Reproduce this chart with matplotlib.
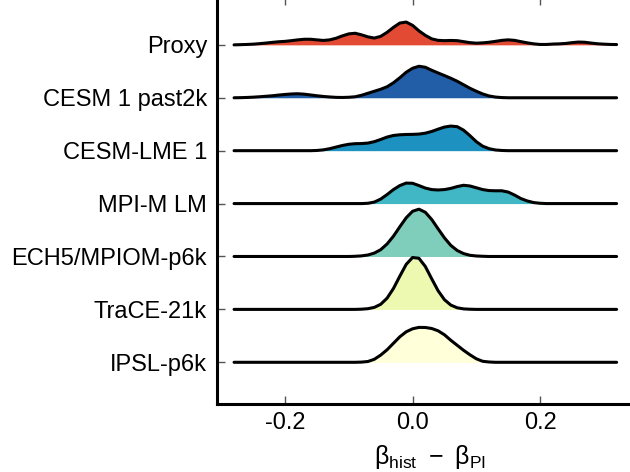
import numpy as np
import matplotlib
matplotlib.use("Agg")
import matplotlib.pyplot as plt

plt.rcParams["font.family"] = ["Liberation Sans", "DejaVu Sans"]
plt.rcParams["axes.unicode_minus"] = False
plt.rcParams["mathtext.fontset"] = "custom"
plt.rcParams["mathtext.rm"] = "Liberation Sans"

models = ["Proxy", "CESM 1 past2k", "CESM-LME 1", "MPI-M LM",
          "ECH5/MPIOM-p6k", "TraCE-21k", "IPSL-p6k"]
colors = ["#e34a33", "#225ea8", "#1d91c0", "#41b6c4",
          "#7fcdbb", "#edf8b1", "#ffffd9"]

# beta_hist - beta_PI grid, -0.28 .. 0.32
beta_diff = np.linspace(-0.28, 0.32, 61)

proxy = [0, 0.2, 0.4, 0.7, 1.2, 1.8, 2.5, 3.1, 3.5, 4.2,
         5.0, 5.6, 5.6, 5.0, 4.4, 5.0, 6.6, 9.0, 11.0, 11.6,
         10.0, 8.0, 6.8, 8.5, 12.5, 17.5, 21.8, 22.8, 19.5, 14.0,
         9.5, 6.0, 4.5, 4.2, 4.4, 4.2, 3.2, 2.2, 1.7, 2.0,
         2.6, 3.5, 4.5, 5.0, 4.5, 3.2, 2.0, 1.0, 0.4, 0.4,
         0.8, 1.0, 1.4, 2.2, 2.8, 2.6, 1.8, 1.1, 0.7, 0.4,
         0.3]
cesm1_past2k = ([0, 0.1, 0.3, 0.6, 1.0, 1.5, 2.0, 2.7, 3.3, 3.8,
                 4.0, 3.6, 2.8, 2.0, 1.3, 0.8, 0.4, 0.3, 0.5, 1.0,
                 2.5, 4.5, 6.5, 8.5, 11.0, 15.0, 20.0, 25.5, 29.5, 31.5,
                 30.5, 27.5, 24.8, 22.2, 19.5, 16.5, 13.0, 9.5, 6.5, 3.8,
                 1.8, 0.7, 0.2] + [0] * 18)
cesm_lme = ([0] * 10 +
            [0, 0, 0, 0.2, 0.8, 2.0, 3.6, 5.2, 6.4, 7.0,
             7.1, 7.6, 9.0, 11.2, 13.6, 15.2, 15.9, 16.2, 16.3, 16.6,
             17.5, 19.2, 21.5, 23.6, 24.6, 24.0, 20.5, 15.0, 9.0, 4.5,
             2.0, 0.7, 0.2] + [0] * 18)
mpi_lm = ([0] * 20 +
          [0, 0.3, 1.5, 4.5, 9.0, 14.0, 18.0, 20.5, 20.3, 18.0,
           15.5, 14.0, 13.6, 14.0, 15.2, 17.0, 18.3, 17.6, 15.8, 14.0,
           13.0, 12.8, 12.8, 11.5, 8.5, 5.0, 2.6, 1.0, 0.3] + [0] * 12)
ech5 = ([0] * 19 + [0.2,
        0.6, 1.5, 3.4, 6.8, 12.5, 20.3, 29.7, 38.7, 45.2, 47.3,
        44.2, 37.0, 27.7, 18.6, 11.1, 6.0, 2.9, 1.2, 0.5, 0.2] + [0] * 21)
trace21k = ([0] * 20 +
            [0.2, 0.7, 2.0, 5.1, 11.2, 20.9, 33.2, 45.0, 51.9, 51.1,
             42.9, 30.6, 18.7, 9.7, 4.3, 1.6, 0.5, 0.15] + [0] * 23)
ipsl = ([0] * 20 +
        [0.2, 0.8, 3.0, 7.2, 12.5, 19.0, 25.5, 30.5, 33.5, 34.9,
         34.8, 33.8, 31.5, 27.5, 22.0, 17.0, 12.0, 7.5, 3.5, 1.0,
         0.3] + [0] * 20)

densities = [proxy, cesm1_past2k, cesm_lme, mpi_lm, ech5, trace21k, ipsl]
scale = 1 / 52.9

fig = plt.figure(figsize=(6.3, 4.72), dpi=100)
ax = fig.add_axes([0.3452, 0.1441, 0.674, 0.8623])

n = len(models)
for i in range(n):
    base = n - 1 - i
    y = base + np.array(densities[i]) * scale
    ax.fill_between(beta_diff, base, y, color=colors[i], lw=0, zorder=2 * i + 1)
    ax.plot(beta_diff, y, color="black", lw=2.2, zorder=2 * i + 2,
            solid_capstyle="round")

ax.set_xlim(-0.306, 0.36)
ax.set_ylim(-0.788, 6.905)
ax.set_yticks(range(n))
ax.set_yticklabels(models[::-1])
ax.set_xticks([-0.2, 0.0, 0.2])
ax.set_xticklabels(["-0.2", "0.0", "0.2"])
for s in ax.spines.values():
    s.set_linewidth(2.2)
ax.tick_params(direction="in", length=6, width=1, color="#555555",
               labelsize=17, top=True, right=True)
ax.tick_params(axis="y", pad=7.5)
ax.tick_params(axis="x", pad=6)
ax.set_xlabel("$\\mathregular{β_{hist}\\;\u2212\\;β_{PI}}$", fontsize=18, labelpad=6)

fig.savefig("out.png", dpi=100)
